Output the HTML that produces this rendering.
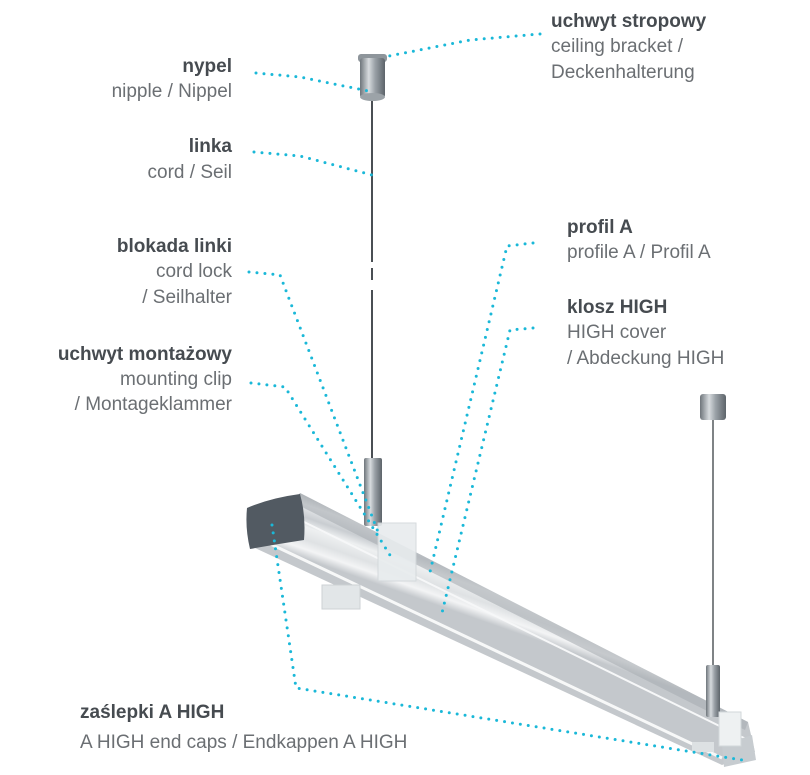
<!DOCTYPE html>
<html><head><meta charset="utf-8"><style>
html,body{margin:0;padding:0;background:#fff;}
svg{display:block;}
text{font-family:"Liberation Sans",sans-serif;font-size:19px;}
.b{font-weight:bold;fill:#464b50;}
.r{fill:#6b6f73;}
.d{fill:none;stroke:#1ab8d8;stroke-width:3;stroke-linecap:round;stroke-dasharray:0 8;}
</style></head><body>
<svg width="810" height="775" viewBox="0 0 810 775" xmlns="http://www.w3.org/2000/svg">
<defs>
<linearGradient id="cyl" x1="0" x2="1" y1="0" y2="0">
<stop offset="0" stop-color="#6e757b"/><stop offset="0.35" stop-color="#d7dbde"/><stop offset="0.6" stop-color="#9aa1a7"/><stop offset="1" stop-color="#5d646a"/></linearGradient>
<linearGradient id="bar" gradientUnits="userSpaceOnUse" x1="300" y1="493" x2="280" y2="550">
<stop offset="0" stop-color="#b9bdc1"/><stop offset="0.15" stop-color="#e9ebed"/><stop offset="0.35" stop-color="#c9cdd1"/><stop offset="0.5" stop-color="#eef0f1"/><stop offset="0.7" stop-color="#dfe2e4"/><stop offset="0.85" stop-color="#f3f4f5"/><stop offset="1" stop-color="#c4c8cc"/></linearGradient>
</defs>

<line x1="372" y1="98" x2="372" y2="262" stroke="#4a4f54" stroke-width="2"/>
<line x1="372" y1="268" x2="372" y2="280" stroke="#4a4f54" stroke-width="2"/>
<line x1="372" y1="290" x2="372" y2="460" stroke="#4a4f54" stroke-width="2"/>
<line x1="713" y1="420" x2="713" y2="668" stroke="#555a5f" stroke-width="1.5"/>

<rect x="358" y="54" width="29" height="8" rx="3" fill="#8e959b"/>
<rect x="360" y="58" width="25" height="40" rx="3" fill="url(#cyl)"/>
<ellipse cx="372.5" cy="97" rx="12.5" ry="4" fill="#9ca3a8"/>
<rect x="700" y="394" width="26" height="26" rx="3" fill="url(#cyl)"/>

<polygon points="300,493 748,722 755,752 722,765 255,548" fill="url(#bar)"/>
<polygon points="300,493 748,722 745,730 298,505" fill="#a9aeb3" opacity="0.6"/>
<line x1="262" y1="540" x2="722" y2="758" stroke="#f7f8f8" stroke-width="3"/>
<line x1="300" y1="520" x2="748" y2="740" stroke="#f6f7f8" stroke-width="2"/>
<path d="M247,508 Q270,498 300,494 Q306,515 304,540 Q278,544 250,549 Q245,528 247,508Z" fill="#525a62"/>
<polygon points="722,745 752,735 756,760 724,767" fill="#c7ccd0"/>

<rect x="364" y="458" width="18" height="68" rx="2" fill="url(#cyl)"/>
<rect x="706" y="665" width="14" height="52" rx="2" fill="url(#cyl)"/>
<rect x="378" y="523" width="38" height="58" fill="#e8ecee" opacity="0.9" stroke="#d2d7da"/>
<rect x="322" y="585" width="38" height="24" fill="#e2e6e8" stroke="#cdd2d5"/>
<rect x="719" y="712" width="22" height="34" fill="#eef1f2" stroke="#d2d7da"/>
<rect x="692" y="742" width="22" height="10" fill="#dde1e3"/>

<polyline class="d" points="540,34 470,40 384,57"/>
<polyline class="d" points="256,73 300,77 373,92"/>
<polyline class="d" points="254,152 300,156 372,175"/>
<polyline class="d" points="249,272 280,275 378,532"/>
<polyline class="d" points="251,383 285,387 393,560"/>
<polyline class="d" points="533,243 507,246 430,572"/>
<polyline class="d" points="533,328 510,330 442,613"/>
<polyline class="d" points="272,525 296,688 742,760"/>

<text class="b" x="551" y="27">uchwyt stropowy</text>
<text class="r" x="551" y="52">ceiling bracket /</text>
<text class="r" x="551" y="78">Deckenhalterung</text>

<text class="b" x="232" y="72" text-anchor="end">nypel</text>
<text class="r" x="232" y="97" text-anchor="end">nipple / Nippel</text>

<text class="b" x="232" y="152" text-anchor="end">linka</text>
<text class="r" x="232" y="178" text-anchor="end">cord / Seil</text>

<text class="b" x="232" y="252" text-anchor="end">blokada linki</text>
<text class="r" x="232" y="277" text-anchor="end">cord lock</text>
<text class="r" x="232" y="303" text-anchor="end">/ Seilhalter</text>

<text class="b" x="232" y="360" text-anchor="end">uchwyt montażowy</text>
<text class="r" x="232" y="385" text-anchor="end">mounting clip</text>
<text class="r" x="232" y="410" text-anchor="end">/ Montageklammer</text>

<text class="b" x="567" y="233">profil A</text>
<text class="r" x="567" y="258">profile A / Profil A</text>

<text class="b" x="567" y="313">klosz HIGH</text>
<text class="r" x="567" y="338">HIGH cover</text>
<text class="r" x="567" y="364">/ Abdeckung HIGH</text>

<text class="b" x="80" y="718">zaślepki A HIGH</text>
<text class="r" x="80" y="748">A HIGH end caps / Endkappen A HIGH</text>
</svg>
</body></html>
